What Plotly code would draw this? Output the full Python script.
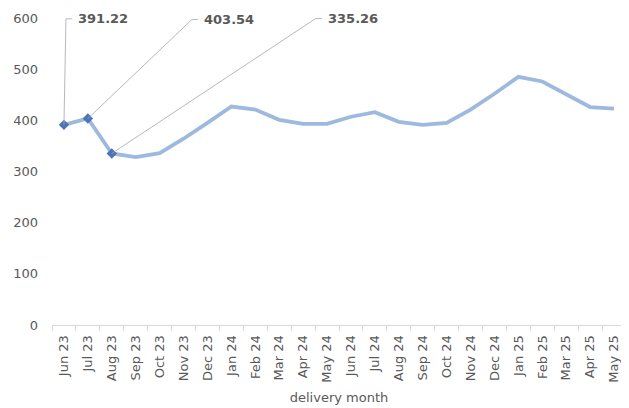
import plotly.graph_objects as go

months = ["Jun 23", "Jul 23", "Aug 23", "Sep 23", "Oct 23", "Nov 23", "Dec 23", "Jan 24",
          "Feb 24", "Mar 24", "Apr 24", "May 24", "Jun 24", "Jul 24", "Aug 24", "Sep 24",
          "Oct 24", "Nov 24", "Dec 24", "Jan 25", "Feb 25", "Mar 25", "Apr 25", "May 25"]
prices = [391.22, 403.54, 335.26, 328, 336, 364, 395, 427,
          421, 401, 393, 393, 407, 416, 397, 391,
          395, 421, 452, 485, 476, 451, 426, 423]
y_ticks = [0, 100, 200, 300, 400, 500, 600]
labelled = [0, 1, 2]  # indices of highlighted points

gray = "#595959"
fig = go.Figure()
fig.add_trace(go.Scatter(x=months, y=prices, mode="lines",
                         line=dict(color="#9DB9DE", width=3.8), hoverinfo="skip"))
fig.add_trace(go.Scatter(x=[months[i] for i in labelled], y=[prices[i] for i in labelled],
                         mode="markers", marker=dict(symbol="diamond", size=8, color="#4A76B8")))

# label offsets (pixels) for the leader lines
offsets = [(2, -106), (104, -99), (204, -135)]
seg = 6
pad = 11
for i, (ax, ay) in zip(labelled, offsets):
    fig.add_annotation(x=months[i], y=prices[i], text="<b>%.2f</b>" % prices[i],
                       ax=ax, ay=ay, xanchor="left", yanchor="middle",
                       showarrow=True, arrowhead=0, arrowwidth=0.8, arrowcolor="#A6A6A6",
                       font=dict(family="DejaVu Sans", size=13, color=gray),
                       borderpad=pad)
    fig.add_shape(type="line", xref="x", yref="y", xsizemode="pixel", ysizemode="pixel",
                  xanchor=months[i], yanchor=prices[i], x0=ax, x1=ax + seg, y0=-ay, y1=-ay,
                  line=dict(color="#A6A6A6", width=0.8))

# page body has an 8px margin; figure is sized to fit the 629x408 window
fig.update_layout(
    width=621, height=400,
    margin=dict(l=44, r=3, t=10, b=83),
    plot_bgcolor="white", paper_bgcolor="white",
    showlegend=False,
    font=dict(family="DejaVu Sans", size=13, color=gray),
    xaxis=dict(type="category", tickangle=-90, showgrid=False, automargin=False,
               showline=True, linecolor="#D9D9D9", linewidth=1,
               ticks="outside", tickson="boundaries", ticklen=5, tickcolor="#D9D9D9",
               ticklabelstandoff=4,
               title=dict(text="delivery month", standoff=11, font=dict(size=13, color=gray)),
               range=[-0.5, 23.5], tickfont=dict(size=13, color=gray)),
    yaxis=dict(range=[0, 600], tickvals=y_ticks, showgrid=False, zeroline=False,
               automargin=False, showline=False, ticklabelstandoff=13,
               tickfont=dict(size=13, color=gray)),
)

fig.write_html("out.html")
